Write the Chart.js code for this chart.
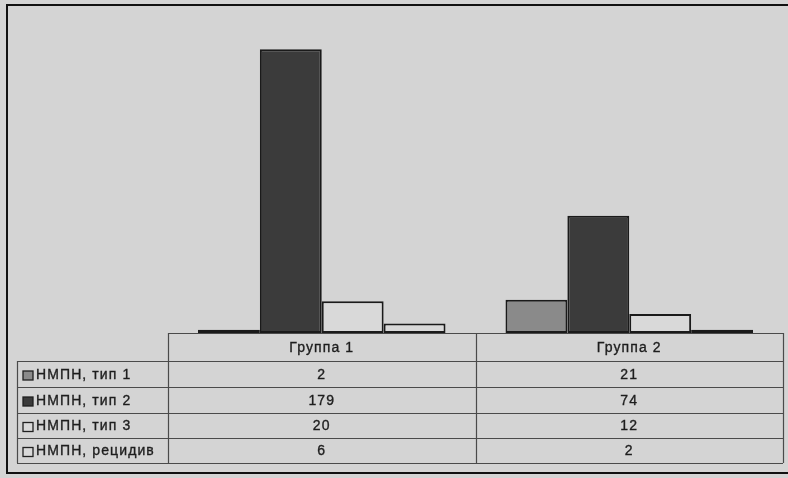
<!DOCTYPE html>
<html>
<head>
<meta charset="utf-8">
<script src="https://cdn.jsdelivr.net/npm/chart.js@4/dist/chart.umd.min.js"></script>
<style>
  html, body { margin: 0; padding: 0; background: #d4d4d4; }
  #wrap { width: 788px; height: 478px; }
</style>
</head>
<body>
<div id="wrap"><canvas id="c" width="788" height="478"></canvas></div>
<script>
// Categories and series
const groups = ['Группа 1', 'Группа 2'];
const seriesNames = ['НМПН, тип 1', 'НМПН, тип 2', 'НМПН, тип 3', 'НМПН, рецидив'];
const type1 = [2, 21];
const type2 = [179, 74];
const type3 = [20, 12];
const relapse = [6, 2];

const seriesValues = [type1, type2, type3, relapse];
const fills = ['#8a8a8a', '#3b3b3b', '#d9d9d9', '#d9d9d9'];
const PAGE_BG = '#d4d4d4';
const INK = '#1e1e1e';
const GRID = '#4a4a4a';

// Heavier text, drawn as fill plus a hairline stroke
function inkText(ctx, s, x, y) {
  ctx.fillText(s, x, y);
  ctx.strokeText(s, x, y);
}

// Data table under the plot, aligned with the category scale
const dataTable = {
  id: 'dataTable',
  beforeDraw(chart) {
    const ctx = chart.ctx;
    ctx.save();
    ctx.fillStyle = PAGE_BG;
    ctx.fillRect(0, 0, chart.width, chart.height);
    ctx.restore();
  },
  afterDraw(chart) {
    const ctx = chart.ctx;
    const x = chart.scales.x;
    const area = chart.chartArea;
    const n = groups.length;
    const catW = (area.right - area.left) / n;
    const tableLeft = 17;
    const top = area.bottom;
    const rowTops = [top, top + 28, top + 54, top + 80, top + 105, top + 130];

    ctx.save();
    ctx.strokeStyle = GRID;
    ctx.lineWidth = 1.2;

    // grid lines
    ctx.beginPath();
    ctx.moveTo(area.left, rowTops[0] + 0.5);
    ctx.lineTo(area.right, rowTops[0] + 0.5);
    for (let r = 1; r < rowTops.length; r++) {
      ctx.moveTo(tableLeft, rowTops[r] + 0.5);
      ctx.lineTo(area.right, rowTops[r] + 0.5);
    }
    ctx.moveTo(tableLeft + 0.5, rowTops[1]);
    ctx.lineTo(tableLeft + 0.5, rowTops[5]);
    for (let i = 0; i <= n; i++) {
      const xx = Math.round(area.left + i * catW) + 0.5;
      ctx.moveTo(xx, rowTops[0]);
      ctx.lineTo(xx, rowTops[5]);
    }
    ctx.stroke();

    ctx.font = '14px "Liberation Sans", Arial, sans-serif';
    ctx.letterSpacing = '1.1px';
    ctx.textBaseline = 'middle';

    // category headers
    ctx.fillStyle = INK;
    ctx.strokeStyle = INK;
    ctx.lineWidth = 0.35;
    ctx.textAlign = 'center';
    groups.forEach((g, i) => {
      inkText(ctx, g, x.getPixelForValue(i), (rowTops[0] + rowTops[1]) / 2 + 1);
    });

    // series rows
    seriesNames.forEach((name, s) => {
      const yMid = (rowTops[s + 1] + rowTops[s + 2]) / 2 + 1;
      // legend key
      ctx.fillStyle = fills[s];
      ctx.fillRect(23, yMid - 4, 10, 9);
      ctx.strokeStyle = '#202020';
      ctx.lineWidth = 1.3;
      ctx.strokeRect(23, yMid - 4, 10, 9);

      ctx.fillStyle = INK;
      ctx.strokeStyle = INK;
      ctx.lineWidth = 0.35;
      ctx.textAlign = 'left';
      inkText(ctx, name, 36, yMid);
      ctx.textAlign = 'center';
      seriesValues[s].forEach((v, i) => {
        inkText(ctx, String(v), x.getPixelForValue(i), yMid);
      });
    });

    // outer frame
    ctx.strokeStyle = '#111';
    ctx.lineWidth = 2;
    ctx.beginPath();
    ctx.moveTo(788, 5);
    ctx.lineTo(7, 5);
    ctx.lineTo(7, 473);
    ctx.lineTo(788, 473);
    ctx.stroke();
    ctx.restore();
  }
};

new Chart(document.getElementById('c'), {
  type: 'bar',
  data: {
    labels: groups,
    datasets: seriesNames.map((name, s) => ({
      label: name,
      data: seriesValues[s],
      backgroundColor: fills[s],
      borderColor: '#1a1a1a',
      borderWidth: 2,
      borderSkipped: false,
      categoryPercentage: 0.805,
      barPercentage: 1.0
    }))
  },
  options: {
    responsive: false,
    animation: false,
    devicePixelRatio: 1,
    layout: { padding: { left: 168, right: 5, top: 16, bottom: 145 } },
    plugins: {
      legend: { display: false },
      tooltip: { enabled: false },
      title: { display: false }
    },
    scales: {
      x: { display: false, offset: true, grid: { display: false } },
      y: { display: false, min: 0, max: 200, grid: { display: false } }
    }
  },
  plugins: [dataTable]
});
</script>
</body>
</html>
